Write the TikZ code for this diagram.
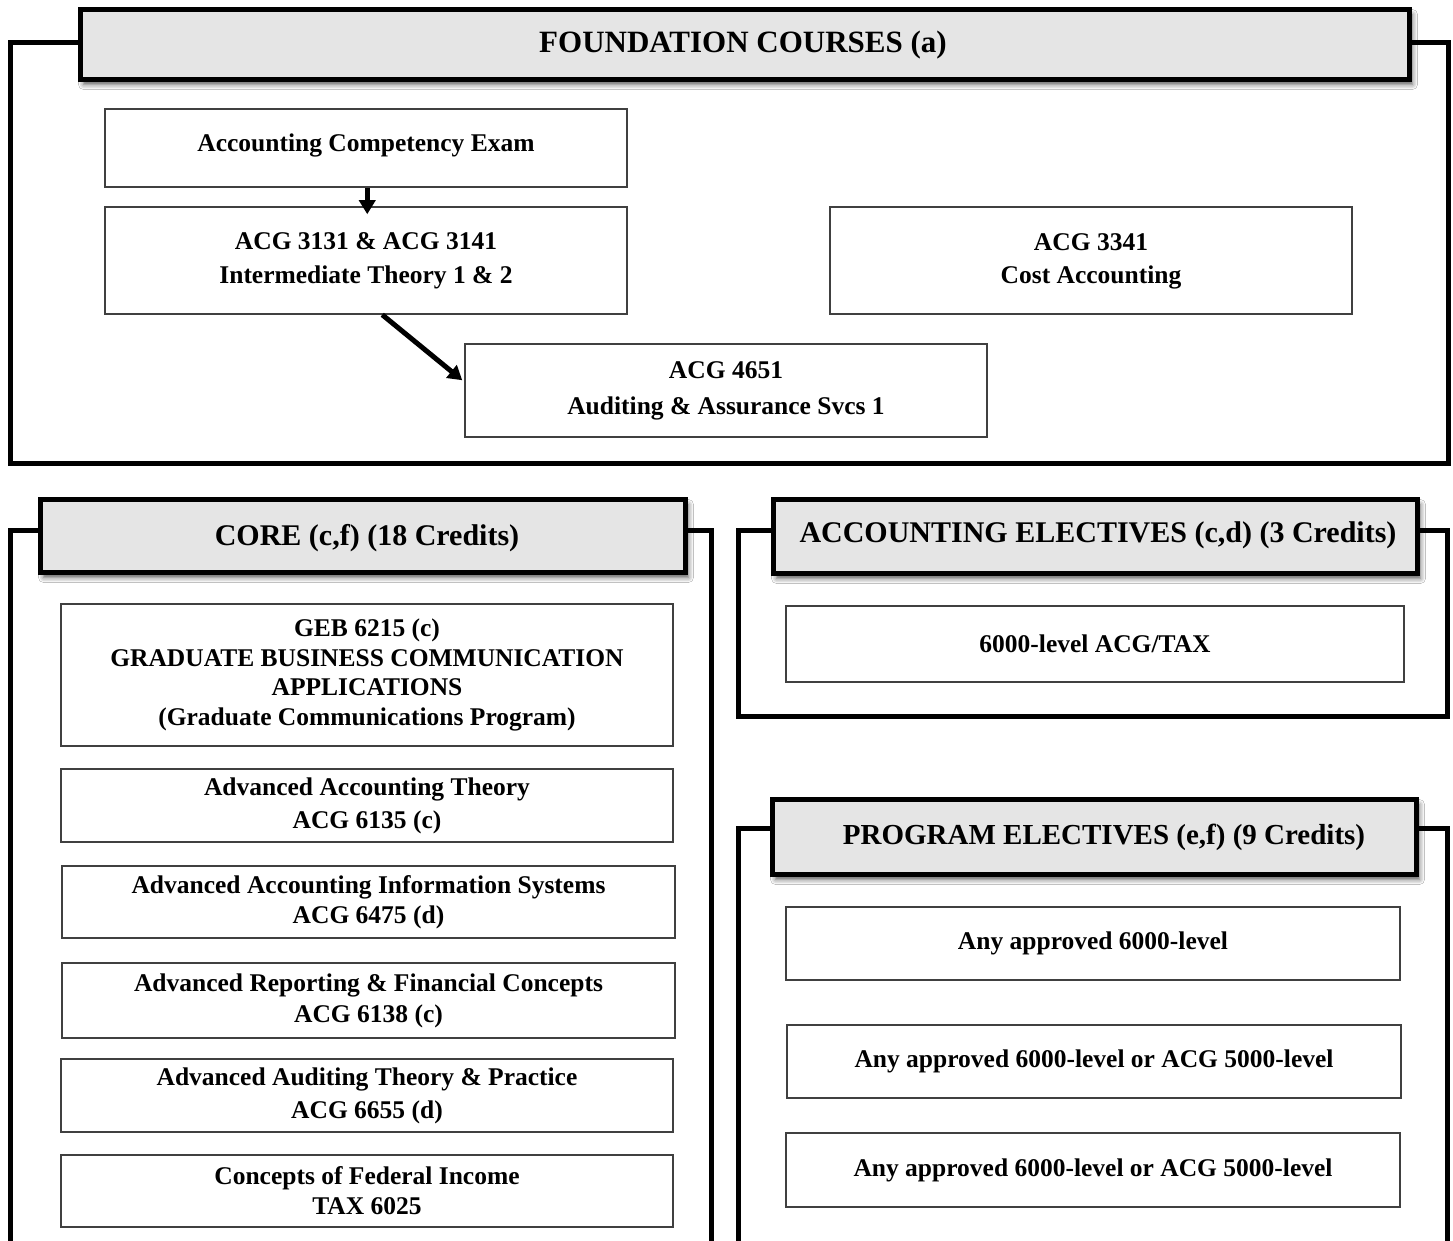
\documentclass[tikz,border=0pt]{standalone}
\usepackage{fontspec}
\setmainfont{Liberation Serif}
\usetikzlibrary{arrows.meta,shadows.blur,calc}
\tikzset{
  crsbox/.style={draw=black!75, line width=1.5pt, fill=white, align=center,
    font=\bfseries\fontsize{25.5}{33}\selectfont, inner sep=0pt},
  banner/.style={draw=black, line width=5pt, fill=black!10, inner sep=0pt,
    font=\bfseries\fontsize{30}{36}\selectfont,
    blur shadow={shadow xshift=3pt, shadow yshift=-5pt, shadow blur radius=5pt, shadow opacity=65}},
  frame/.style={line width=5pt, line join=miter},
  flow/.style={line width=5pt, -{Triangle[length=14pt,width=16pt]}},
}
\begin{document}
\begin{tikzpicture}[x=1pt,y=-1pt]
\useasboundingbox (0,0) rectangle (1453,1241);
\clip (0,0) rectangle (1453,1241);
\fill[white] (0,0) rectangle (1453,1241);

% frame end points
\coordinate (fbl) at (10,463);
\coordinate (fbr) at (1448,463);
\coordinate (cbl) at (10,1260);
\coordinate (cbr) at (711,1260);
\coordinate (abl) at (738,716);
\coordinate (abr) at (1447,716);
\coordinate (pbl) at (738,1260);
\coordinate (pbr) at (1447,1260);

\coordinate (fA) at (78,43);
\coordinate (fB) at (1412,43);
\coordinate (cA) at (38,530);
\coordinate (cB) at (688,530);
\coordinate (aA) at (771,530);
\coordinate (aB) at (1420,530);
\coordinate (pA) at (770,828);
\coordinate (pB) at (1419,828);

\draw[frame] (fA) -| (fbl) -- (fbr) |- (fB);
\draw[frame] (cbl) |- (cA);
\draw[frame] (cB) -| (cbr);
\draw[frame] (aA) -| (abl) -- (abr) |- (aB);
\draw[frame] (pbl) |- (pA);
\draw[frame] (pB) -| (pbr);

% banners
\node[banner, minimum width=1329pt, minimum height=70pt] (fb) at (745,44.5) {};
\node[font=\bfseries\fontsize{31}{36}\selectfont] (fbt) at (743,45) {FOUNDATION COURSES (a)};

\node[banner, minimum width=645pt, minimum height=73pt] (cb) at (363,536) {};
\node[font=\bfseries\fontsize{30}{36}\selectfont] (cbt) at (367,538) {CORE (c,f) (18 Credits)};

\node[banner, minimum width=644pt, minimum height=74pt] (ab) at (1095.5,536.5) {};
\node[font=\bfseries\fontsize{30}{36}\selectfont] (abt) at (1098,535) {ACCOUNTING ELECTIVES (c,d) (3 Credits)};

\node[banner, minimum width=644pt, minimum height=75pt] (pb) at (1094.5,837) {};
\node[font=\bfseries\fontsize{29}{36}\selectfont] (pbt) at (1104,837) {PROGRAM ELECTIVES (e,f) (9 Credits)};

% ---------- foundation courses ----------
\node[crsbox, minimum width=522pt, minimum height=78pt] (ace) at (366,148)
  {\raisebox{11pt}{Accounting Competency Exam}};
\node[crsbox, minimum width=522pt, minimum height=107pt, font=\bfseries\fontsize{25.5}{34}\selectfont] (b2) at (366,260.5)
  {ACG 3131 \& ACG 3141\\Intermediate Theory 1 \& 2};
\node[crsbox, minimum width=522pt, minimum height=107pt] (b3) at (1091,260.5)
  {\raisebox{3pt}{\begin{tabular}{@{}c@{}}ACG 3341\\Cost Accounting\end{tabular}}};
\node[crsbox, minimum width=522pt, minimum height=93pt, font=\bfseries\fontsize{25.5}{36}\selectfont] (b4) at (726,390.5)
  {ACG 4651\\Auditing \& Assurance Svcs 1};

\draw[flow] ($(ace.south west)+(263,0)$) -- ($(b2.north west)+(263,8)$);
\draw[flow] ($(b2.south west)+(278,0)$) -- ($(b4.north west)+(-2,37)$);

% ---------- core ----------
\node[crsbox, minimum width=612pt, minimum height=142pt, font=\bfseries\fontsize{25.5}{29.5}\selectfont] (g1) at (367,675)
  {GEB 6215 (c)\\GRADUATE BUSINESS COMMUNICATION\\APPLICATIONS\\(Graduate Communications Program)};
\node[crsbox, minimum width=612pt, minimum height=73pt] (g2) at (367,805.5)
  {Advanced Accounting Theory\\ACG 6135 (c)};
\node[crsbox, minimum width=613pt, minimum height=72pt, font=\bfseries\fontsize{25.5}{30}\selectfont] (g3) at (368.5,902)
  {Advanced Accounting Information Systems\\ACG 6475 (d)};
\node[crsbox, minimum width=613pt, minimum height=75pt, font=\bfseries\fontsize{25.5}{31}\selectfont] (g4) at (368.5,1000.5)
  {Advanced Reporting \& Financial Concepts\\ACG 6138 (c)};
\node[crsbox, minimum width=612pt, minimum height=73pt] (g5) at (367,1095.5)
  {Advanced Auditing Theory \& Practice\\ACG 6655 (d)};
\node[crsbox, minimum width=612pt, minimum height=72pt, font=\bfseries\fontsize{25.5}{30}\selectfont] (g6) at (367,1191)
  {Concepts of Federal Income\\TAX 6025};

% ---------- accounting electives ----------
\node[crsbox, minimum width=618pt, minimum height=76pt] (a1) at (1095,644)
  {6000-level ACG/TAX};

% ---------- program electives ----------
\node[crsbox, minimum width=614pt, minimum height=73pt] (p1) at (1093,943.5)
  {Any approved 6000-level};
\node[crsbox, minimum width=614pt, minimum height=73pt] (p2) at (1094,1061.5)
  {Any approved 6000-level or ACG 5000-level};
\node[crsbox, minimum width=614pt, minimum height=74pt] (p3) at (1093,1170)
  {Any approved 6000-level or ACG 5000-level};
\end{tikzpicture}
\end{document}
